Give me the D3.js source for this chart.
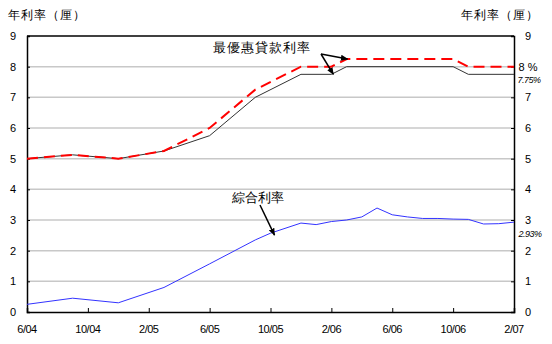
<!DOCTYPE html>
<html><head><meta charset="utf-8">
<script src="https://cdn.jsdelivr.net/npm/d3@7"></script>
<style>body{margin:0;background:#fff}svg{display:block}text{font-family:"Liberation Sans",Arial,sans-serif}</style>
</head><body>
<svg id="c" width="552" height="344"></svg>
<script>
// month index from 6/04 = 0
const xTickLabels = ["6/04","10/04","2/05","6/05","10/05","2/06","6/06","10/06","2/07"];
const yTicks = [0,1,2,3,4,5,6,7,8,9];
const primeMonths = [0,3,6,9,12,15,18,20,21,28,29,32];
const primeHigh = [5.0,5.125,5.0,5.25,6.0,7.25,8.0,8.0,8.25,8.25,8.0,8.0];
const primeLow  = [5.0,5.125,5.0,5.25,5.75,7.0,7.75,7.75,8.0,8.0,7.75,7.75];
const compMonths = [0,3,6,9,12,15,16,18,19,20,21,22,23,24,25,26,27,28,29,30,31,32];
const compRate = [0.25,0.45,0.3,0.8,1.57,2.35,2.57,2.9,2.85,2.95,3.0,3.1,3.39,3.17,3.1,3.05,3.05,3.03,3.02,2.87,2.88,2.93];

const svg = d3.select("#c");
const L=27,R=514,T=36,B=312;
const x = d3.scaleLinear().domain([0,32]).range([L,R]);
const y = d3.scaleLinear().domain([0,9]).range([B,T]);
const cjk = '"Noto Sans CJK TC","Noto Sans CJK SC",sans-serif';

// gridlines
svg.append("g").selectAll("line").data(yTicks.filter(d=>d>0&&d<9)).join("line")
  .attr("x1",L).attr("x2",R).attr("y1",d=>y(d)).attr("y2",d=>y(d))
  .attr("stroke","#c8c8c8").attr("stroke-width",1.5);

// axes
const lAx = svg.append("g").attr("transform",`translate(${L},0)`)
  .call(d3.axisRight(y).tickValues(yTicks).tickSize(3).tickFormat(""));
const rAx = svg.append("g").attr("transform",`translate(${R},0)`)
  .call(d3.axisLeft(y).tickValues(yTicks).tickSize(3).tickFormat(""));
const bAx = svg.append("g").attr("transform",`translate(0,${B})`)
  .call(d3.axisTop(x).tickValues(d3.range(0,33,4)).tickSize(4).tickFormat(""));
[lAx,rAx,bAx].forEach(g=>{g.select(".domain").attr("stroke","#000").attr("stroke-width",1.5);g.selectAll(".tick line").attr("stroke","#000")});
svg.append("line").attr("x1",L).attr("x2",R).attr("y1",T).attr("y2",T).attr("stroke","#000").attr("stroke-width",1.5);

// tick labels
svg.append("g").selectAll("text").data(yTicks).join("text")
  .attr("x",13).attr("y",d=>y(d)+4).attr("text-anchor","middle").attr("font-size",11).text(d=>d);
svg.append("g").selectAll("text").data(yTicks).join("text")
  .attr("x",528).attr("y",d=>y(d)+4).attr("text-anchor","middle").attr("font-size",11).text(d=>d===8?"8 %":d);
svg.append("g").selectAll("text").data(xTickLabels).join("text")
  .attr("x",(d,i)=>x(i*4)).attr("y",333).attr("text-anchor","middle").attr("font-size",11).attr("letter-spacing",-0.5).text(d=>d);

// titles
svg.append("text").attr("x",8).attr("y",19).attr("font-size",12).attr("font-family",cjk).attr("letter-spacing",1).text("年利率（厘）");
svg.append("text").attr("x",461).attr("y",19).attr("font-size",12).attr("font-family",cjk).attr("letter-spacing",1).text("年利率（厘）");

// lines
const line = (ms)=>d3.line().x((d,i)=>x(ms[i])).y(d=>y(d));
svg.append("path").datum(primeLow).attr("d",line(primeMonths)).attr("fill","none").attr("stroke","#333").attr("stroke-width",1);
svg.append("path").datum(primeHigh).attr("d",line(primeMonths)).attr("fill","none").attr("stroke","#ff0000").attr("stroke-width",2).attr("stroke-dasharray","11,6");
svg.append("path").datum(compRate).attr("d",line(compMonths)).attr("fill","none").attr("stroke","#3333ff").attr("stroke-width",1);

// end labels
svg.append("text").attr("x",529).attr("y",y(7.75)+9).attr("text-anchor","middle").attr("font-size",9).attr("font-style","italic").attr("letter-spacing",-0.5).text("7.75%");
svg.append("text").attr("x",530).attr("y",y(2.93)+15).attr("text-anchor","middle").attr("font-size",9).attr("font-style","italic").attr("letter-spacing",-0.5).text("2.93%");

// annotations
const defs = svg.append("defs");
defs.append("marker").attr("id","ah").attr("viewBox","0 0 10 10").attr("refX",9).attr("refY",5)
  .attr("markerWidth",5).attr("markerHeight",5).attr("orient","auto")
  .append("path").attr("d","M0,1 L10,5 L0,9 Z").attr("fill","#000");
svg.append("text").attr("x",213).attr("y",52).attr("font-size",13).attr("font-family",cjk).attr("letter-spacing",1).text("最優惠貸款利率");
svg.append("line").attr("x1",321).attr("y1",54).attr("x2",x(21)+1).attr("y2",y(8.25)).attr("stroke","#000").attr("stroke-width",1.5).attr("marker-end","url(#ah)");
svg.append("line").attr("x1",321).attr("y1",54).attr("x2",x(20)+2).attr("y2",y(7.75)).attr("stroke","#000").attr("stroke-width",1.5).attr("marker-end","url(#ah)");
svg.append("text").attr("x",232).attr("y",202).attr("font-size",13).attr("font-family",cjk).text("綜合利率");
svg.append("line").attr("x1",260).attr("y1",205).attr("x2",x(16)+4).attr("y2",y(2.57)+2).attr("stroke","#000").attr("stroke-width",1.5).attr("marker-end","url(#ah)");
</script>
</body></html>
